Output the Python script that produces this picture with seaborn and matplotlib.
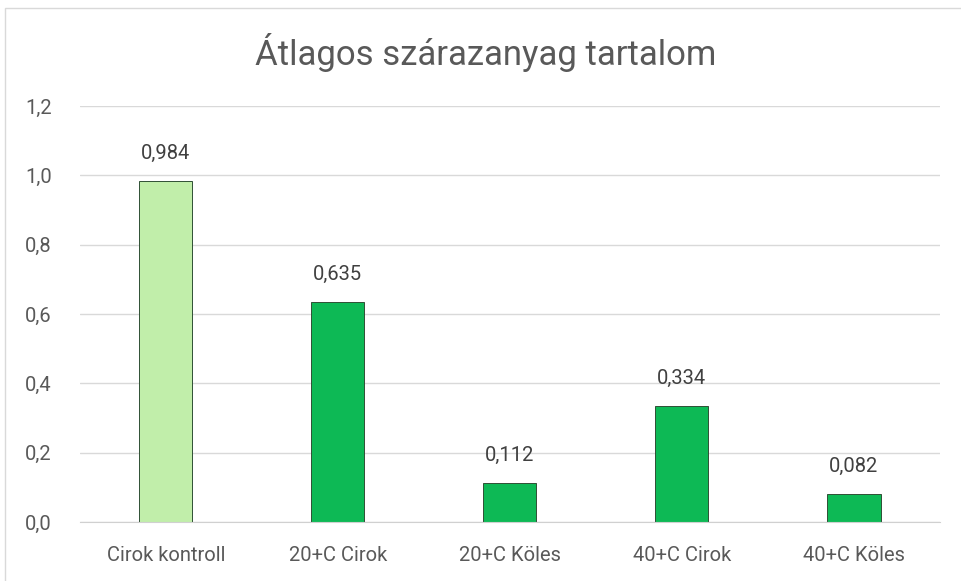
import pandas as pd
import matplotlib.pyplot as plt
import seaborn as sns

# data
categories = ['Cirok kontroll', '20+C Cirok', '20+C Köles', '40+C Cirok', '40+C Köles']
values = [0.984, 0.635, 0.112, 0.334, 0.082]
bar_colors = ['#C1EEAA', '#0DB955', '#0DB955', '#0DB955', '#0DB955']
y_ticks = [0.0, 0.2, 0.4, 0.6, 0.8, 1.0, 1.2]

df = pd.DataFrame({'cat': categories, 'val': values})

sns.set_style('white')
plt.rcParams['font.family'] = ['Roboto', 'DejaVu Sans']
text_color = '#595959'

fig = plt.figure(figsize=(9.61, 5.81), dpi=100)
ax = fig.add_axes([0.083, 0.1015, 0.895, 0.716])

sns.barplot(data=df, x='cat', y='val', hue='cat', palette=bar_colors, saturation=1,
            legend=False, width=0.31, ax=ax, edgecolor='#2f4f35', linewidth=0.7)

ax.set_ylim(0, 1.2)
ax.set_yticks(y_ticks)
ax.set_yticklabels([f'{t:.1f}'.replace('.', ',') for t in y_ticks])
ax.set_xlabel('')
ax.set_ylabel('')
ax.grid(axis='y', color='#D9D9D9', linewidth=1)
ax.set_axisbelow(True)
for s in ['top', 'right', 'left']:
    ax.spines[s].set_visible(False)
ax.spines['bottom'].set_color('#D0D0D0')
ax.tick_params(axis='both', length=0, labelsize=14.5, colors=text_color)
ax.tick_params(axis='y', pad=20)
ax.tick_params(axis='x', pad=17)

for cont in ax.containers:
    ax.bar_label(cont, labels=[f'{v:.3f}'.replace('.', ',') for v in cont.datavalues],
                 padding=13, fontsize=14.5, color='#404040')

fig.text(0.505, 0.91, 'Átlagos szárazanyag tartalom', ha='center', va='center',
         fontsize=25, color=text_color)

# outer chart frame
frame = plt.Rectangle((0.005, -0.01), 1.1, 0.996, transform=fig.transFigure,
                      fill=False, edgecolor='#D9D9D9', linewidth=1)
fig.patches.append(frame)

fig.savefig('out.png', dpi=100)
